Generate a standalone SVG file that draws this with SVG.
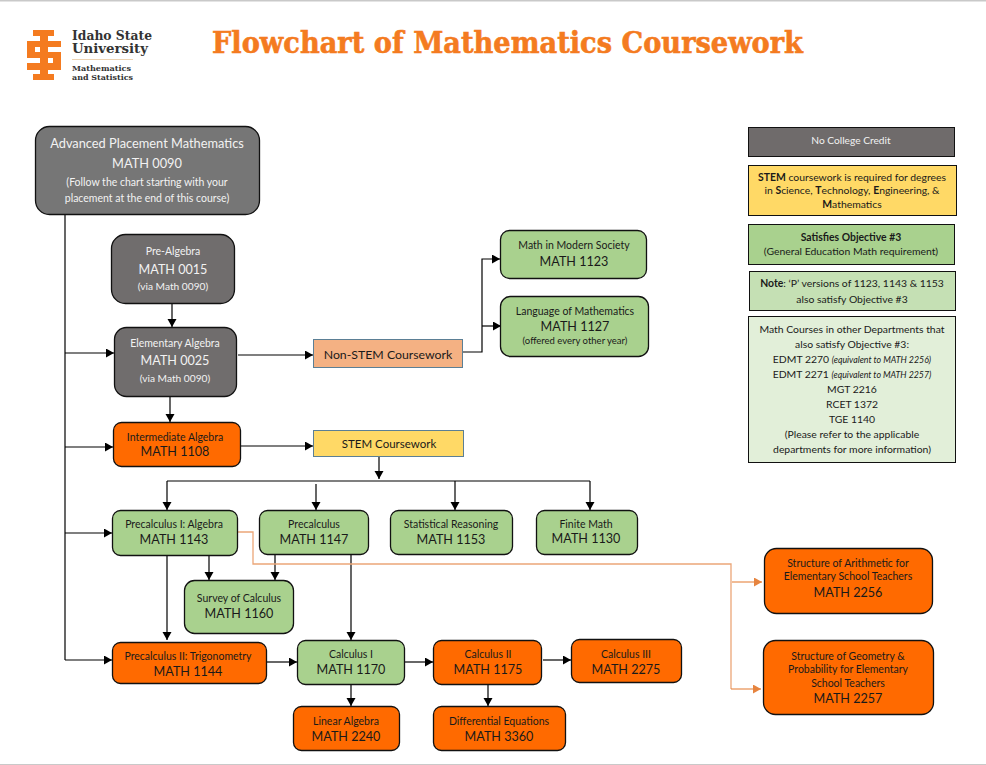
<svg xmlns="http://www.w3.org/2000/svg" width="986" height="765" viewBox="0 0 986 765">
<defs>
<marker id="a" markerUnits="userSpaceOnUse" markerWidth="9" markerHeight="10" refX="8" refY="4.5" orient="auto"><path d="M0 0L8 4.500L0 9z" fill="#000"/></marker>
<marker id="o" markerUnits="userSpaceOnUse" markerWidth="9" markerHeight="10" refX="8" refY="4.5" orient="auto"><path d="M0 0L8 4.500L0 9z" fill="#e6843f"/></marker>
</defs>
<style>
text{font-family:Lato,"Open Sans","Liberation Sans",sans-serif;text-anchor:middle;fill:#1a1a1a}
.n{stroke:#111;stroke-width:1.3}
.g{fill:#a9d18e}.r{fill:#ff6a00}.k{fill:#706d6d}.k1{fill:#767676}
.s{font-size:10.500px}.m{font-size:12.600px}.x{font-size:9.500px}.v{font-size:10.200px}
.b{font-size:12.800px}
.w{fill:#f2f2f2}
.c{fill:none;stroke:#000;stroke-width:1.2;marker-end:url(#a)}
.l{fill:none;stroke:#000;stroke-width:1.2}
.oc{fill:none;stroke:#eba678;stroke-width:1.3}
.oa{fill:none;stroke:#e6843f;stroke-width:1.1;marker-end:url(#o)}
.lg{font-size:10.400px}
.i{font-style:italic;font-size:8.800px}
.lo{font-family:"DejaVu Serif",serif;text-anchor:start;font-weight:bold;fill:#333}
</style>
<rect width="986" height="765" fill="#fff"/>
<rect x="0" y="0" width="986" height="1.500" fill="#c9c9c9"/>
<rect x="0" y="764" width="986" height="1" fill="#c9c9c9"/>
<g id="logo">
<g fill="#f47b20"><rect x="33" y="30" width="21" height="6"/><rect x="33" y="74" width="21" height="6"/><rect x="40" y="30" width="8" height="50"/><path d="M27 41H61V47H35V52H61V70H27V63H53V58H27z"/></g>
<text x="72" y="40" class="lo" font-size="12" textLength="80" lengthAdjust="spacingAndGlyphs">Idaho State</text>
<text x="72" y="52.500" class="lo" font-size="12" textLength="76" lengthAdjust="spacingAndGlyphs">University</text>
<rect x="72" y="59" width="61" height="0.800" fill="#e8c9a0"/>
<text x="72" y="71" class="lo" font-size="8" textLength="59" lengthAdjust="spacingAndGlyphs">Mathematics</text>
<text x="72" y="80" class="lo" font-size="8" textLength="61" lengthAdjust="spacingAndGlyphs">and Statistics</text>
</g>
<text id="title" x="212" y="53" style="font-family:'DejaVu Serif',serif;text-anchor:start;font-weight:bold;font-size:29px;fill:#f47b20;stroke:#f47b20;stroke-width:0.600" textLength="591" lengthAdjust="spacingAndGlyphs">Flowchart of Mathematics Coursework</text>
<g id="connectors">
<path class="l" d="M65 214V660"/>
<path class="c" d="M65 353H114"/>
<path class="c" d="M65 447H113"/>
<path class="c" d="M65 533H112"/>
<path class="c" d="M65 660H112"/>
<path class="c" d="M172 304V327"/>
<path class="c" d="M170 397V422"/>
<path class="c" d="M238 355H313"/>
<path class="c" d="M463 352H482V259H500"/>
<path class="c" d="M482 326H501"/>
<path class="c" d="M240 446H313"/>
<path class="c" d="M379 457V479"/>
<path class="l" d="M167 481H590"/>
<path class="c" d="M167 481V510"/>
<path class="c" d="M316 484V510"/>
<path class="c" d="M455 481V510"/>
<path class="c" d="M590 481V510"/>
<path class="c" d="M167 556V640"/>
<path class="c" d="M209 555V580"/>
<path class="c" d="M275 554V580"/>
<path class="c" d="M351 554V640"/>
<path class="c" d="M267 662H297"/>
<path class="c" d="M351 684V706"/>
<path class="c" d="M405 662H433"/>
<path class="c" d="M488 684V706"/>
<path class="c" d="M543 660H571"/>
<path class="oc" d="M238 532H253V564H731V689"/>
<path class="oa" d="M732 582H762"/>
<path class="oa" d="M731 689H761"/>
</g>
<g id="ap"><rect class="n k1" x="35.500" y="126.500" width="224" height="88" rx="14"/><text x="147" y="148" class="w b">Advanced Placement Mathematics</text><text x="147" y="168" class="w b">MATH 0090</text><text x="147" y="186" class="w" font-size="10.500">(Follow the chart starting with your</text><text x="147" y="202" class="w" font-size="10.500">placement at the end of this course)</text></g>
<g id="m0015"><rect class="n k" x="111.500" y="234.500" width="123" height="69" rx="14"/><text x="173" y="255" class="w s">Pre-Algebra</text><text x="173" y="274" class="w m">MATH 0015</text><text x="173" y="290" class="w v">(via Math 0090)</text></g>
<g id="m0025"><rect class="n k" x="114.500" y="327.500" width="122" height="69" rx="12"/><text x="175" y="347" class="w s">Elementary Algebra</text><text x="175" y="365" class="w m">MATH 0025</text><text x="175" y="382" class="w v">(via Math 0090)</text></g>
<g id="nonstem"><rect x="313.500" y="339.500" width="149" height="28" fill="#f4b183" stroke="#5b7f95"/><text x="388" y="359" font-size="12.300">Non-STEM Coursework</text></g>
<g id="m1123"><rect class="n g" x="500.500" y="230.500" width="146" height="48" rx="9"/><text x="574" y="249" class="s">Math in Modern Society</text><text x="574" y="266" class="m">MATH 1123</text></g>
<g id="m1127"><rect class="n g" x="500.500" y="296.500" width="148" height="60" rx="10"/><text x="575" y="315" class="s">Language of Mathematics</text><text x="575" y="331" class="m">MATH 1127</text><text x="575" y="344" class="x">(offered every other year)</text></g>
<g id="m1108"><rect class="n r" x="113.500" y="422.500" width="127" height="44" rx="8"/><text x="175" y="441" class="s">Intermediate Algebra</text><text x="175" y="456" class="m">MATH 1108</text></g>
<g id="stem"><rect x="313.500" y="430.500" width="150" height="26" fill="#ffd966" stroke="#5b7f95"/><text x="389" y="448" font-size="11.500">STEM Coursework</text></g>
<g id="m1143"><rect class="n g" x="112.500" y="510.500" width="125" height="45" rx="8"/><text x="174" y="528" class="s">Precalculus I: Algebra</text><text x="174" y="544" class="m">MATH 1143</text></g>
<g id="m1147"><rect class="n g" x="259.500" y="510.500" width="109" height="44" rx="8"/><text x="314" y="528" class="s">Precalculus</text><text x="314" y="544" class="m">MATH 1147</text></g>
<g id="m1153"><rect class="n g" x="390.500" y="510.500" width="122" height="44" rx="8"/><text x="451" y="528" class="s">Statistical Reasoning</text><text x="451" y="544" class="m">MATH 1153</text></g>
<g id="m1130"><rect class="n g" x="536.500" y="510.500" width="101" height="44" rx="8"/><text x="586" y="528" class="s">Finite Math</text><text x="586" y="543" class="m">MATH 1130</text></g>
<g id="m1160"><rect class="n g" x="184.500" y="580.500" width="109" height="53" rx="10"/><text x="239" y="602" class="s">Survey of Calculus</text><text x="239" y="618" class="m">MATH 1160</text></g>
<g id="m1144"><rect class="n r" x="112.500" y="642.500" width="154" height="41" rx="8"/><text x="188" y="660" class="s">Precalculus II: Trigonometry</text><text x="188" y="676" class="m">MATH 1144</text></g>
<g id="m1170"><rect class="n g" x="297.500" y="640.500" width="107" height="44" rx="8"/><text x="351" y="658" class="s">Calculus I</text><text x="351" y="674" class="m">MATH 1170</text></g>
<g id="m1175"><rect class="n r" x="433.500" y="640.500" width="108" height="44" rx="8"/><text x="488" y="658" class="s">Calculus II</text><text x="488" y="674" class="m">MATH 1175</text></g>
<g id="m2275"><rect class="n r" x="571.500" y="639.500" width="110" height="43" rx="8"/><text x="626" y="658" class="s">Calculus III</text><text x="626" y="674" class="m">MATH 2275</text></g>
<g id="m2240"><rect class="n r" x="293.500" y="706.500" width="106" height="44" rx="8"/><text x="346" y="725" class="s">Linear Algebra</text><text x="346" y="741" class="m">MATH 2240</text></g>
<g id="m3360"><rect class="n r" x="433.500" y="706.500" width="132" height="44" rx="8"/><text x="499" y="725" class="s">Differential Equations</text><text x="499" y="741" class="m">MATH 3360</text></g>
<g id="m2256"><rect class="n r" x="764.500" y="548.500" width="168" height="65" rx="12"/><text x="848" y="567" class="s">Structure of Arithmetic for</text><text x="848" y="580" class="s">Elementary School Teachers</text><text x="848" y="597" class="m">MATH 2256</text></g>
<g id="m2257"><rect class="n r" x="763.500" y="640.500" width="170" height="74" rx="12"/><text x="848" y="660" class="s">Structure of Geometry &amp;</text><text x="848" y="673" class="s">Probability for Elementary</text><text x="848" y="687" class="s">School Teachers</text><text x="848" y="703" class="m">MATH 2257</text></g>
<g id="legend-nocredit"><rect x="748.500" y="127.500" width="206" height="29" fill="#6f6b6b" stroke="#111"/><text x="851" y="144" class="w v">No College Credit</text></g>
<g id="legend-stem"><rect x="748.500" y="165.500" width="208" height="50" fill="#ffd966" stroke="#111"/><text x="852" y="181" class="lg"><tspan font-weight="bold">STEM</tspan> coursework is required for degrees</text><text x="852" y="194" class="lg">in <tspan font-weight="bold">S</tspan>cience, <tspan font-weight="bold">T</tspan>echnology, <tspan font-weight="bold">E</tspan>ngineering, &amp;</text><text x="852" y="208" class="lg"><tspan font-weight="bold">M</tspan>athematics</text></g>
<g id="legend-obj"><rect x="748.500" y="224.500" width="206" height="40" fill="#a9d18e" stroke="#111"/><text x="851" y="241" class="lg" font-weight="bold">Satisfies Objective #3</text><text x="851" y="255" class="lg">(General Education Math requirement)</text></g>
<g id="legend-note"><rect x="749.500" y="271.500" width="206" height="39" fill="#c5e0b4" stroke="#111"/><text x="852" y="287" class="lg"><tspan font-weight="bold">Note</tspan>: ‘P’ versions of 1123, 1143 &amp; 1153</text><text x="852" y="303" class="lg">also satisfy Objective #3</text></g>
<g id="legend-other"><rect x="748.500" y="316.500" width="207" height="146" fill="#e2efd9" stroke="#111"/>
<text x="852" y="333" class="lg">Math Courses in other Departments that</text>
<text x="852" y="348" class="lg">also satisfy Objective #3:</text>
<text x="852" y="363" class="lg">EDMT 2270 <tspan class="i">(equivalent to MATH 2256)</tspan></text>
<text x="852" y="378" class="lg">EDMT 2271 <tspan class="i">(equivalent to MATH 2257)</tspan></text>
<text x="852" y="393" class="lg">MGT 2216</text>
<text x="852" y="408" class="lg">RCET 1372</text>
<text x="852" y="423" class="lg">TGE 1140</text>
<text x="852" y="438" class="lg">(Please refer to the applicable</text>
<text x="852" y="453" class="lg">departments for more information)</text></g>
</svg>
